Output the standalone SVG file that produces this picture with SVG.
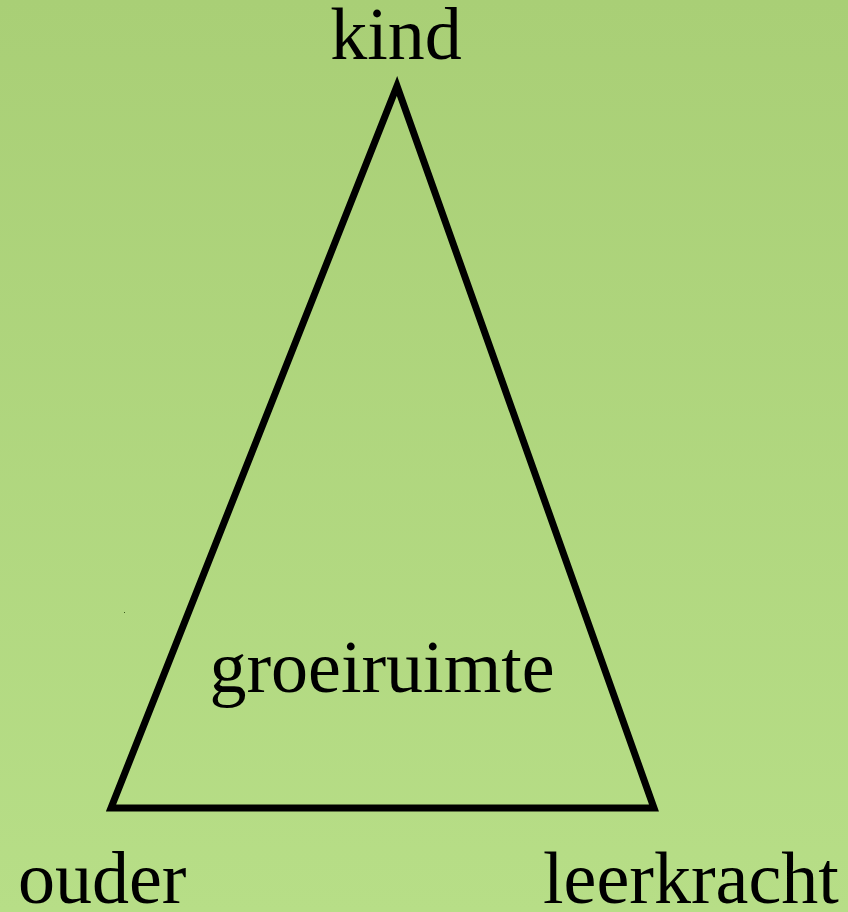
<svg xmlns="http://www.w3.org/2000/svg" width="848" height="912" viewBox="0 0 848 912">
  <defs>
    <linearGradient id="bg" x1="0" y1="0" x2="0" y2="1">
      <stop offset="0" stop-color="#a9cf76"/>
      <stop offset="1" stop-color="#b7de87"/>
    </linearGradient>
  </defs>
  <style>
    .lbl { font-family: "Liberation Serif", "Times New Roman", serif; font-size: 74px; fill: #000; }
    .edge { fill: none; stroke: #000; stroke-width: 7; stroke-linejoin: miter; }
  </style>
  <rect x="0" y="0" width="848" height="912" fill="url(#bg)"/>
  <rect x="124" y="612" width="1" height="1" fill="#3a5a20"/>
  <g id="connectors">
    <polygon class="edge" points="397,86 654,808 111,808"/>
  </g>
  <g id="kind"><text class="lbl" x="396" y="59" text-anchor="middle">kind</text></g>
  <g id="ouder"><text class="lbl" x="18" y="903">ouder</text></g>
  <g id="leerkracht"><text class="lbl" x="543" y="903">leerkracht</text></g>
  <g id="groeiruimte"><text class="lbl" x="382" y="692" text-anchor="middle">groeiruimte</text></g>
</svg>
